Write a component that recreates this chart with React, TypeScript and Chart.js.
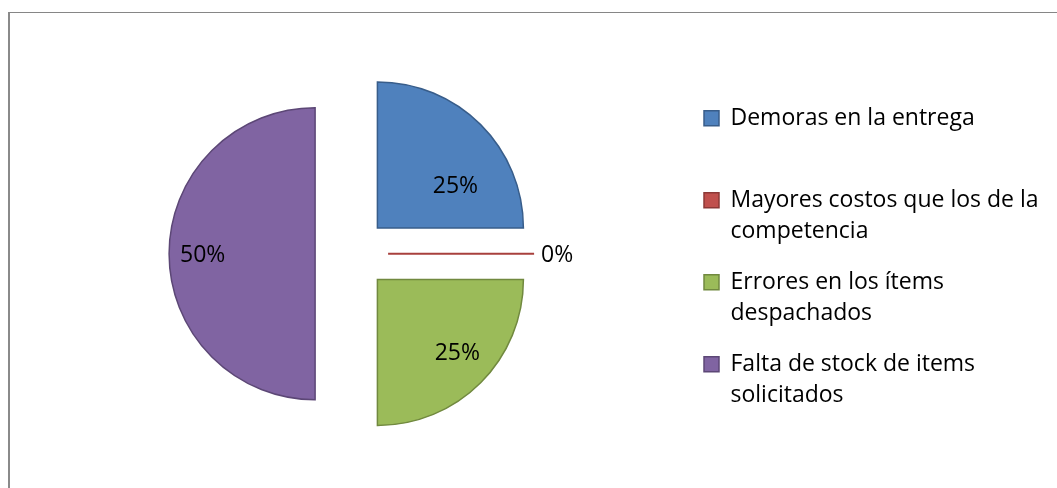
import React, { useEffect, useRef } from 'react';
import { Chart, registerables } from 'chart.js';

Chart.register(...registerables);

// ---- data ----
const categoryLines: string[][] = [
  ['Demoras en la entrega'],
  ['Mayores costos que los de la', 'competencia'],
  ['Errores en los ítems', 'despachados'],
  ['Falta de stock de items', 'solicitados'],
];
const shares: number[] = [25, 0, 25, 50];

// ---- styles ----
const fillColors = ['#4F81BD', '#C0504D', '#9BBB59', '#8064A2'];
const edgeColors = ['#385D8A', '#8C3836', '#71893F', '#5C4776'];
const zeroLineColor = '#A8403D';

const W = 1057;
const H = 488;
const FONT_FAMILY = '"Open Sans", "Noto Sans", sans-serif';
const FONT_SIZE = 23;
const LINE_HEIGHT = 31;
const EXPLODE = 36.5;
const PIE_RADIUS = 146;
const PIE_CX = 351.6;
const LEGEND_PAD = 20;
const LEGEND_BOX = 15;
const LEGEND_LEFT = 684;
const PAD_LEFT = 2 * PIE_CX - LEGEND_LEFT;
const PAD_TOP = 19.4;
const TITLE_PAD = 57.4;
const LABEL_DY = 1.5;
const labelRadiusFrac = [0.61, 0, 0.74, 0.77];
const labelAngleFrac = [0.68, 0.5, 0.47, 0.5];

const explodePlugin = {
  id: 'explodeSlices',
  beforeDatasetDraw(chart: any, args: any) {
    const ctx = chart.ctx;
    args.meta.data.forEach((el: any) => {
      const { x, y, startAngle, endAngle, outerRadius } = el.getProps(
        ['x', 'y', 'startAngle', 'endAngle', 'outerRadius'], true);
      const mid = (startAngle + endAngle) / 2;
      const cx = Math.cos(mid);
      const cy = Math.sin(mid);
      if (endAngle - startAngle === 0) {
        ctx.save();
        ctx.strokeStyle = zeroLineColor;
        ctx.lineWidth = 2;
        ctx.beginPath();
        ctx.moveTo(x + cx * EXPLODE, y + cy * EXPLODE);
        ctx.lineTo(x + cx * (EXPLODE + outerRadius), y + cy * (EXPLODE + outerRadius));
        ctx.stroke();
        ctx.restore();
      } else {
        ctx.save();
        ctx.translate(cx * EXPLODE, cy * EXPLODE);
        el.draw(ctx);
        ctx.restore();
      }
    });
    return false;
  },
};

const labelPlugin = {
  id: 'sliceLabels',
  afterDatasetsDraw(chart: any) {
    const ctx = chart.ctx;
    const meta = chart.getDatasetMeta(0);
    const values = chart.data.datasets[0].data as number[];
    const total = values.reduce((a, b) => a + b, 0);
    ctx.save();
    ctx.font = `${FONT_SIZE}px ${FONT_FAMILY}`;
    ctx.fillStyle = '#000';
    ctx.textBaseline = 'middle';
    meta.data.forEach((el: any, i: number) => {
      const { x, y, startAngle, endAngle, outerRadius } = el.getProps(
        ['x', 'y', 'startAngle', 'endAngle', 'outerRadius'], true);
      const text = `${Math.round((values[i] / total) * 100)}%`;
      const mid = (startAngle + endAngle) / 2;
      const ax = x + Math.cos(mid) * EXPLODE;
      const ay = y + Math.sin(mid) * EXPLODE + LABEL_DY;
      if (endAngle - startAngle === 0) {
        ctx.textAlign = 'left';
        ctx.fillText(text, ax + Math.cos(mid) * (outerRadius + 7), ay + Math.sin(mid) * (outerRadius + 7));
      } else {
        const a = startAngle + (endAngle - startAngle) * labelAngleFrac[i];
        const r = outerRadius * labelRadiusFrac[i];
        ctx.textAlign = 'center';
        ctx.fillText(text, ax + Math.cos(a) * r, ay + Math.sin(a) * r);
      }
    });
    ctx.restore();
  },
};

export default function App() {
  const canvasRef = useRef<HTMLCanvasElement | null>(null);

  useEffect(() => {
    const canvas = canvasRef.current;
    if (!canvas) return;

    // measure the longest legend line so the legend lands where intended
    const mctx = document.createElement('canvas').getContext('2d')!;
    mctx.font = `${FONT_SIZE}px ${FONT_FAMILY}`;
    let longest = '';
    categoryLines.forEach((lines) => {
      const l = lines.reduce((a, b) => (a.length > b.length ? a : b));
      if (l.length > longest.length) longest = l;
    });
    const textW = mctx.measureText(longest).width;
    const legendW = LEGEND_PAD + LEGEND_BOX + FONT_SIZE / 2 + textW + 10;
    const padRight = W - LEGEND_LEFT - legendW;

    const legendLabels = categoryLines.map((l) => (l.length < 2 ? [...l, ''] : l));

    const chart = new Chart(canvas, {
      type: 'pie',
      data: {
        labels: legendLabels as any,
        datasets: [
          {
            data: shares,
            backgroundColor: fillColors,
            borderColor: edgeColors,
            borderWidth: 1.5,
            borderJoinStyle: 'miter',
          } as any,
        ],
      },
      options: {
        responsive: false,
        devicePixelRatio: 1,
        animation: false,
        events: [],
        radius: PIE_RADIUS,
        layout: { padding: { left: PAD_LEFT, right: padRight, top: PAD_TOP, bottom: 0 } },
        plugins: {
          tooltip: { enabled: false },
          legend: {
            position: 'right',
            align: 'start',
            title: {
              display: true,
              text: '',
              font: { size: 10, lineHeight: 1 },
              padding: { top: TITLE_PAD, bottom: 0 },
            },
            labels: {
              boxWidth: LEGEND_BOX,
              boxHeight: LEGEND_BOX,
              padding: LEGEND_PAD,
              color: '#000',
              font: { family: FONT_FAMILY, size: FONT_SIZE, lineHeight: LINE_HEIGHT / FONT_SIZE },
            },
          },
        },
      } as any,
      plugins: [explodePlugin, labelPlugin],
    });

    return () => chart.destroy();
  }, []);

  return (
    <div style={{ position: 'fixed', left: 0, top: 0, width: W, height: H, background: '#fff', overflow: 'hidden' }}>
      <div
        style={{
          position: 'absolute',
          left: 8,
          top: 12,
          width: W - 8,
          height: H - 12,
          boxSizing: 'border-box',
          borderTop: '1px solid #868686',
          borderLeft: '2px solid #8a8a8a',
        }}
      />
      <canvas ref={canvasRef} width={W} height={H} style={{ position: 'absolute', left: 0, top: 0, display: 'block' }} />
    </div>
  );
}
